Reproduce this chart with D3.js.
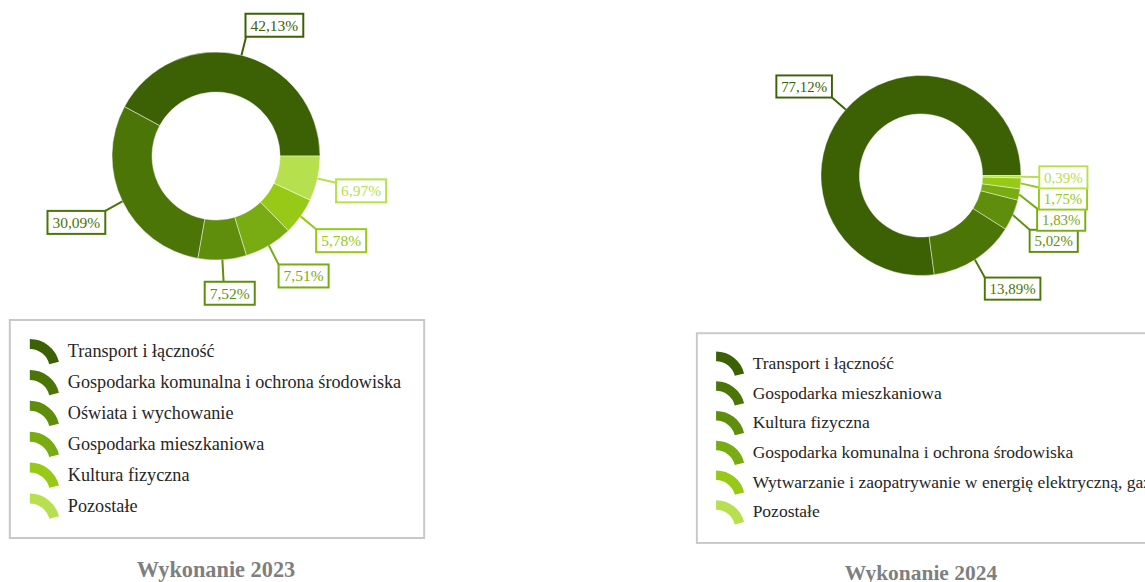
<!DOCTYPE html>
<html>
<head>
<meta charset="UTF-8">
<title>Wykonanie 2023 / 2024</title>
<style>
    body { margin: 0; background: #ffffff; }
    svg { display: block; }
</style>
</head>
<body>
<script src="https://cdn.jsdelivr.net/npm/d3@7"></script>
<script>

    //Chart data.
    var categories2023 = ["Transport i łączność", "Gospodarka komunalna i ochrona środowiska", "Oświata i wychowanie",
                          "Gospodarka mieszkaniowa", "Kultura fizyczna", "Pozostałe"];
    var values2023 = [42.13, 30.09, 7.52, 7.51, 5.78, 6.97];

    var categories2024 = ["Transport i łączność", "Gospodarka mieszkaniowa", "Kultura fizyczna",
                          "Gospodarka komunalna i ochrona środowiska",
                          "Wytwarzanie i zaopatrywanie w energię elektryczną, gaz i wodę", "Pozostałe"];
    var values2024 = [77.12, 13.89, 5.02, 1.83, 1.75, 0.39];

    var titles = ["Wykonanie 2023", "Wykonanie 2024"];
    var sliceColors = ["#3c6104", "#4b7607", "#5f8e0c", "#78ac12", "#96ca16", "#b6e04e"];

    //Layout (in panel coordinates; the second panel is drawn a bit smaller).
    var cx = 216, cy = 156, outerR = 104, innerR = 64, leaderR = outerR + 19;
    var boxH = 23, boxPad = 5;
    var legendTop = 320, legendH = 218, legendMaxW = 468;
    var rowY0 = 351, rowStep = 30.9;
    var fontFamily = "'Liberation Serif', 'Times New Roman', serif";

    var svg = d3.select("body").append("svg")
                .attr("width", 1145)
                .attr("height", 582);

    function fmtPct(v) { return d3.format(".2f")(v).replace(".", ",") + "%"; }
    function clamp1(v) { return Math.max(-1, Math.min(1, v)); }

    function drawPanel(g, categories, values, title, id) {

        var color = d3.scaleOrdinal().domain(categories).range(sliceColors);

        //Slices start at 3 o'clock and run counter-clockwise.
        var pie = d3.pie().sort(null)
                    .startAngle(Math.PI / 2)
                    .endAngle(Math.PI / 2 - 2 * Math.PI);
        var arcs = pie(values);
        var arc = d3.arc().innerRadius(innerR).outerRadius(outerR);

        g.append("g")
         .attr("transform", "translate(" + cx + "," + cy + ")")
         .selectAll("path")
         .data(arcs)
         .enter().append("path")
            .attr("d", arc)
            .attr("fill", function(d, i) { return color(categories[i]); })
            .attr("stroke", "#ffffff")
            .attr("stroke-opacity", 0.45)
            .attr("stroke-width", 1);

        //Label boxes with leader lines.
        var labelLayer = g.append("g");
        var labels = arcs.map(function(d, i) {
            var a = (d.startAngle + d.endAngle) / 2;
            var dx = Math.sin(a), dy = -Math.cos(a);
            return { text: fmtPct(values[i]), color: color(categories[i]), dx: dx, dy: dy,
                     x0: cx + dx * outerR, y0: cy + dy * outerR,
                     ex: cx + dx * leaderR, ey: cy + dy * leaderR };
        });

        //Measure the text to size the boxes.
        labels.forEach(function(l) {
            var t = labelLayer.append("text")
                              .attr("font-family", fontFamily)
                              .attr("font-size", 15.5)
                              .text(l.text);
            l.w = t.node().getComputedTextLength() + 2 * boxPad;
            t.remove();
            l.left = l.ex - l.w * (0.5 - 0.5 * clamp1(l.dx * 4));
            l.top = l.ey + (boxH / 2) * clamp1(l.dy * 3) - boxH / 2 + Math.max(0, l.dy) * 3;
        });

        //Push overlapping boxes downwards.
        var placed = [];
        labels.slice().sort(function(a, b) { return a.top - b.top; }).forEach(function(l) {
            var moved = true;
            while (moved) {
                moved = false;
                placed.forEach(function(p) {
                    var xHit = l.left < p.left + p.w && l.left + l.w > p.left;
                    var yHit = l.top < p.top + boxH - 1 && l.top + boxH > p.top;
                    if (xHit && yHit) { l.top = p.top + boxH - 1; moved = true; }
                });
            }
            placed.push(l);
        });

        labels.forEach(function(l) {
            var endX = Math.max(l.left, Math.min(l.left + l.w, l.ex)),
                endY = Math.max(l.top, Math.min(l.top + boxH, l.ey));
            labelLayer.append("line")
                      .attr("x1", l.x0).attr("y1", l.y0)
                      .attr("x2", endX).attr("y2", endY)
                      .attr("stroke", l.color)
                      .attr("stroke-width", 2);
        });
        labels.forEach(function(l) {
            labelLayer.append("rect")
                      .attr("x", l.left).attr("y", l.top)
                      .attr("width", l.w).attr("height", boxH)
                      .attr("fill", "#ffffff")
                      .attr("stroke", l.color)
                      .attr("stroke-width", 2);
            labelLayer.append("text")
                      .attr("x", l.left + l.w / 2)
                      .attr("y", l.top + boxH / 2)
                      .attr("dy", "0.35em")
                      .attr("text-anchor", "middle")
                      .attr("font-family", fontFamily)
                      .attr("font-size", 15.5)
                      .attr("fill", l.color)
                      .text(l.text);
        });

        //Legend, centred under the donut and clipped when too wide.
        var legend = g.append("g");
        var maxText = 0;
        categories.forEach(function(c) {
            var t = legend.append("text").attr("font-family", fontFamily).attr("font-size", 18.2).text(c);
            maxText = Math.max(maxText, t.node().getComputedTextLength());
            t.remove();
        });
        var legendW = Math.min(legendMaxW, 58 + maxText + 23),
            legendX = cx + 1 - legendW / 2;

        legend.append("rect")
              .attr("x", legendX).attr("y", legendTop)
              .attr("width", legendW).attr("height", legendH)
              .attr("fill", "#ffffff")
              .attr("stroke", "#c8c8c8")
              .attr("stroke-width", 2);

        svg.append("defs").append("clipPath")
           .attr("id", "legendClip" + id)
           .append("rect")
              .attr("x", legendX).attr("y", legendTop)
              .attr("width", legendW).attr("height", legendH);

        var iconArc = d3.arc().innerRadius(20).outerRadius(30).startAngle(0).endAngle(1.33);
        var rows = legend.append("g")
                         .attr("clip-path", "url(#legendClip" + id + ")")
                         .selectAll("g")
                         .data(categories)
                         .enter().append("g")
                            .attr("transform", function(d, i) {
                                return "translate(" + (legendX + 20) + "," + (rowY0 + i * rowStep) + ")";
                            });
        rows.append("path")
            .attr("transform", "translate(0,18)")
            .attr("d", iconArc())
            .attr("fill", function(d) { return color(d); });
        rows.append("text")
            .attr("x", 38)
            .attr("dy", "0.33em")
            .attr("font-family", fontFamily)
            .attr("font-size", 18.2)
            .attr("fill", "#262626")
            .text(function(d) { return d; });

        //Title under the legend.
        g.append("text")
         .attr("x", cx)
         .attr("y", 577)
         .attr("text-anchor", "middle")
         .attr("font-family", fontFamily)
         .attr("font-size", 22.3)
         .attr("font-weight", "bold")
         .attr("fill", "#7f7f7f")
         .text(title);
    }

    drawPanel(svg.append("g"), categories2023, values2023, titles[0], 0);
    drawPanel(svg.append("g").attr("transform", "translate(713.2,25.4) scale(0.962)"),
              categories2024, values2024, titles[1], 1);

</script>
</body>
</html>
